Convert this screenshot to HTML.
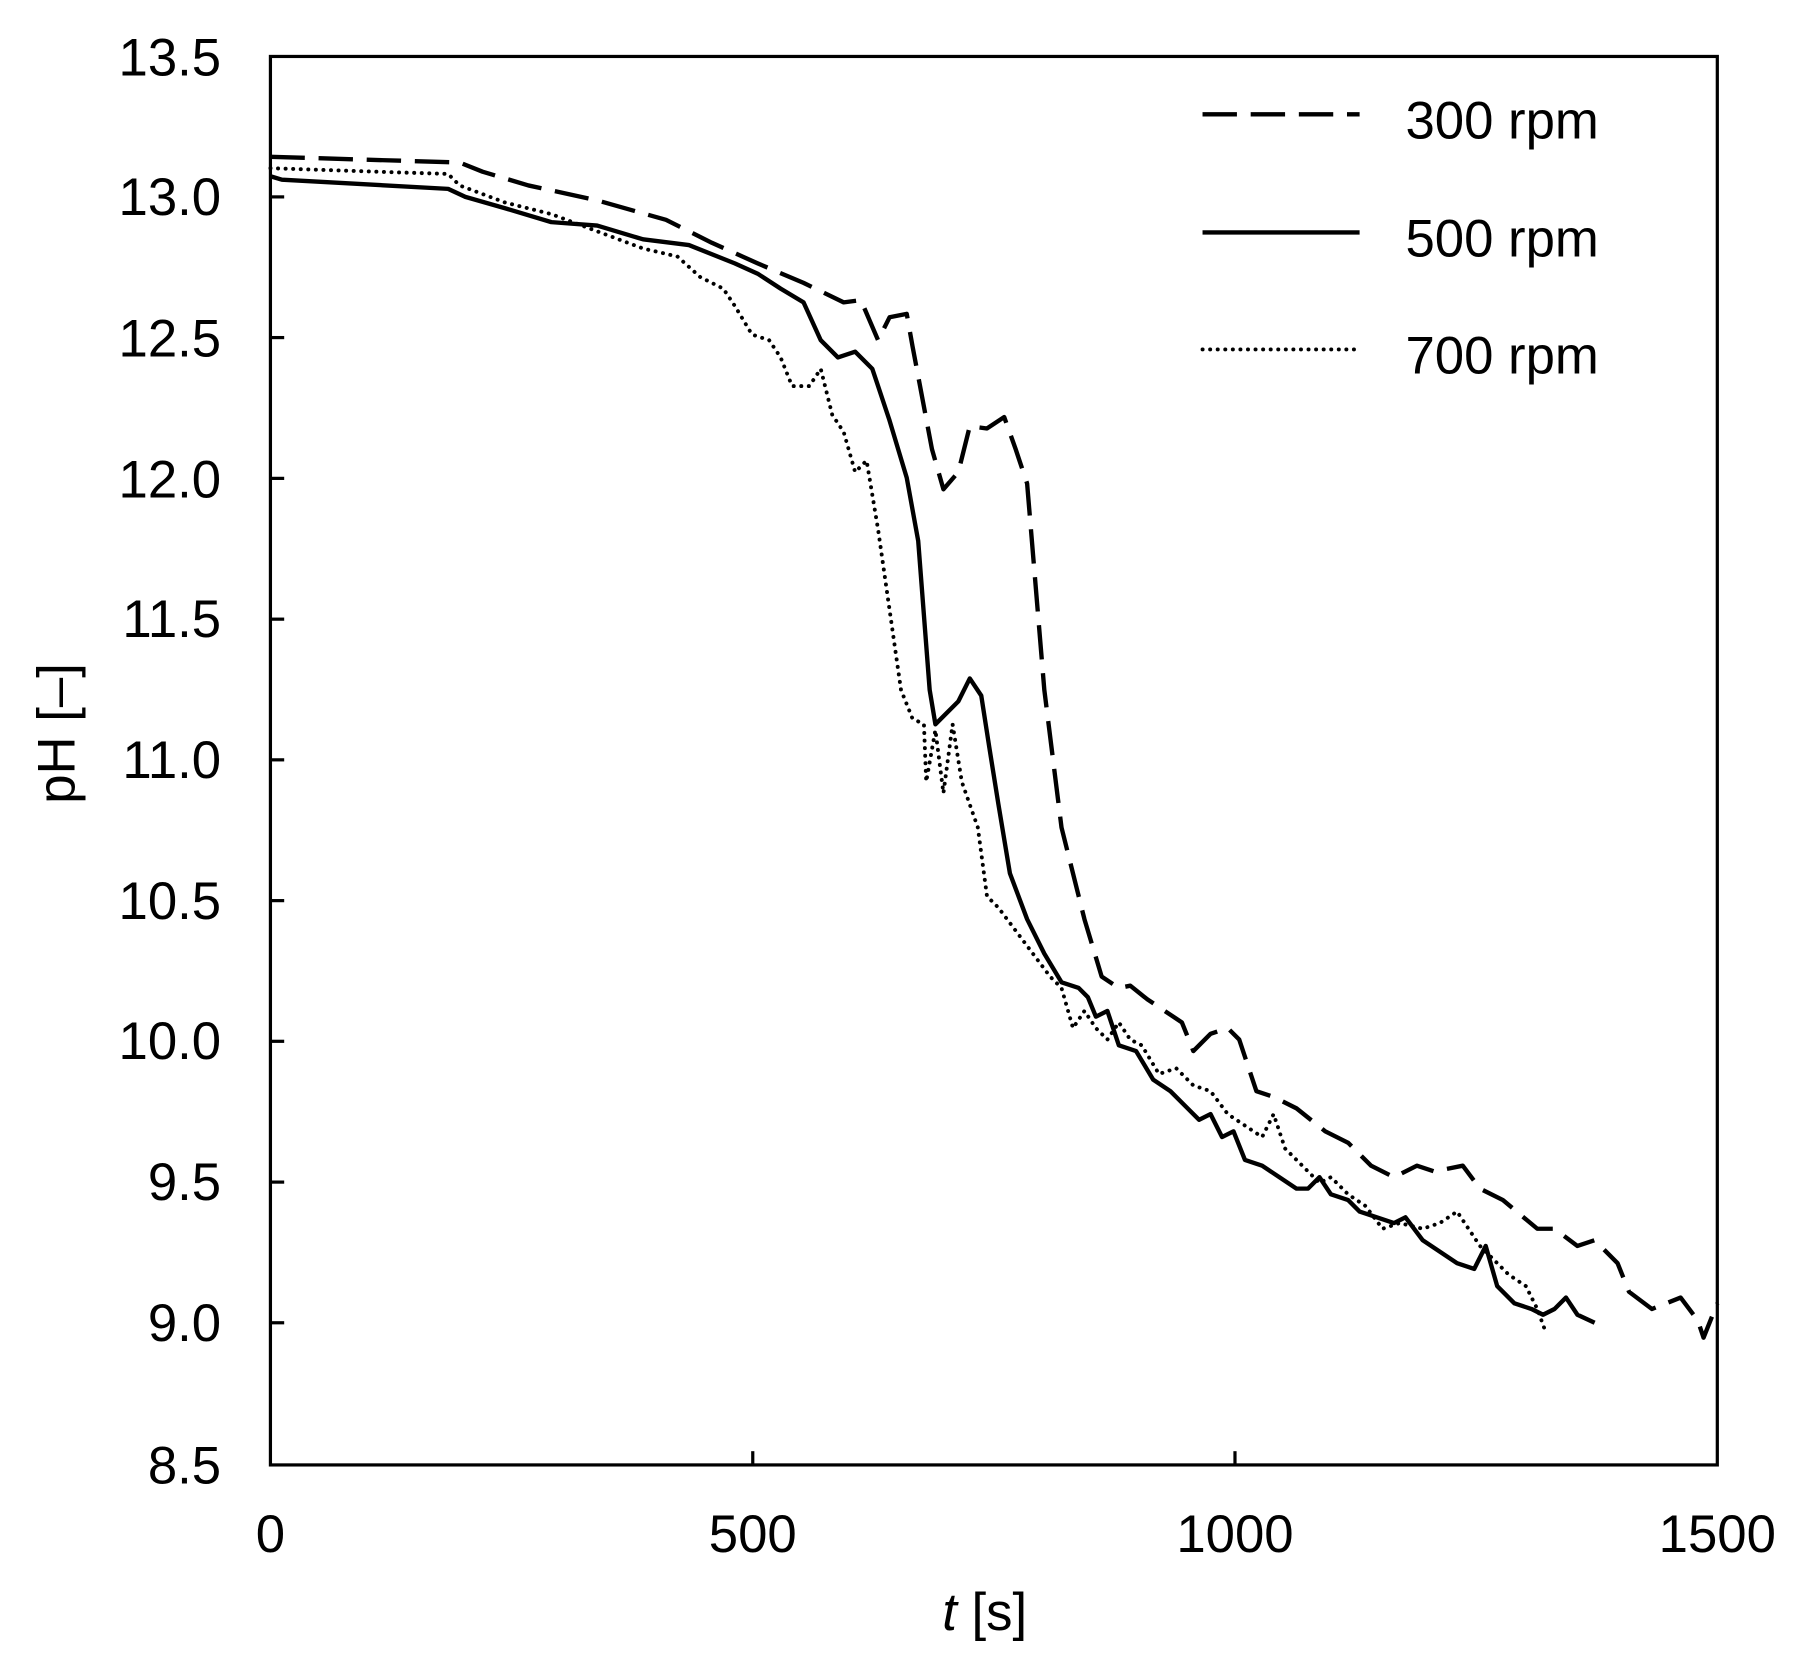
<!DOCTYPE html>
<html><head><style>html,body{margin:0;padding:0;background:#fff}svg{display:block}</style></head>
<body>
<svg width="1797" height="1668" viewBox="0 0 1797 1668" xmlns="http://www.w3.org/2000/svg">
<g transform="translate(1,2) scale(1.1465)" font-family="Liberation Sans, Arial, sans-serif" fill="#000">
<rect x="235" y="47.5" width="1262" height="1228.5" fill="none" stroke="#000" stroke-width="2.8"/>
<g stroke="#000" stroke-width="2.8">
<line x1="235" y1="170" x2="247" y2="170"/><line x1="235" y1="292.7" x2="247" y2="292.7"/>
<line x1="235" y1="415.5" x2="247" y2="415.5"/><line x1="235" y1="538.3" x2="247" y2="538.3"/>
<line x1="235" y1="661" x2="247" y2="661"/><line x1="235" y1="783.8" x2="247" y2="783.8"/>
<line x1="235" y1="906.5" x2="247" y2="906.5"/><line x1="235" y1="1029.3" x2="247" y2="1029.3"/>
<line x1="235" y1="1152" x2="247" y2="1152"/>
<line x1="655.7" y1="1276" x2="655.7" y2="1264"/><line x1="1076.3" y1="1276" x2="1076.3" y2="1264"/>
</g>
<g font-size="46" text-anchor="end">
<text x="192" y="64">13.5</text><text x="192" y="186">13.0</text><text x="192" y="309">12.5</text>
<text x="192" y="432">12.0</text><text x="192" y="554">11.5</text><text x="192" y="677">11.0</text>
<text x="192" y="800">10.5</text><text x="192" y="922">10.0</text><text x="192" y="1045">9.5</text>
<text x="192" y="1168">9.0</text><text x="192" y="1292">8.5</text>
</g>
<g font-size="46" text-anchor="middle">
<text x="235" y="1352">0</text><text x="655.7" y="1352">500</text>
<text x="1076.3" y="1352">1000</text><text x="1497" y="1352">1500</text>
<text x="858" y="1420"><tspan font-style="italic">t</tspan> [s]</text>
<text transform="translate(64,638) rotate(-90)">pH [–]</text>
</g>
<g font-size="46">
<text x="1225" y="119">300 rpm</text><text x="1225" y="222">500 rpm</text><text x="1225" y="324">700 rpm</text>
</g>
<g fill="none" stroke="#000" stroke-width="3.8" stroke-linejoin="round">
<line x1="1048" y1="98" x2="1185" y2="98" stroke-dasharray="30 12"/>
<line x1="1048" y1="201" x2="1185" y2="201"/>
<line x1="1048" y1="303" x2="1185" y2="303" stroke-width="3.4" stroke-dasharray="0.1 6.5" stroke-linecap="round"/>
<polyline stroke-dasharray="30 12" points="235,135 400,140 420,148 460,160 520,173 580,190 620,210 660,228 700,245 735,262 750,260 765,295 775,275 790,272 795,300 812,390 822,425 835,410 845,370 860,372 875,362 885,390 895,420 910,600 925,720 945,800 960,850 975,860 985,858 1000,870 1015,880 1030,890 1040,915 1055,900 1070,895 1080,905 1095,950 1110,955 1130,965 1155,985 1175,995 1195,1015 1215,1025 1235,1015 1250,1020 1275,1015 1290,1035 1310,1045 1340,1070 1355,1070 1375,1085 1390,1080 1410,1100 1420,1125 1440,1140 1465,1130 1480,1150 1485,1165 1497,1135"/>
<polyline points="235,152 245,155 390,163 405,170 440,180 480,192 520,195 560,207 600,212 640,228 660,237 680,250 700,262 715,295 730,310 745,305 760,320 775,365 790,415 800,470 810,600 815,630 820,625 835,610 845,590 855,605 862,650 870,700 880,760 895,800 910,830 925,855 940,860 948,868 955,885 965,880 975,910 990,915 1005,940 1020,950 1035,965 1045,975 1055,970 1065,990 1075,985 1085,1010 1100,1015 1115,1025 1130,1035 1140,1035 1150,1025 1160,1040 1175,1045 1185,1055 1200,1060 1215,1065 1225,1060 1240,1080 1255,1090 1270,1100 1285,1105 1295,1085 1305,1120 1320,1135 1335,1140 1345,1145 1355,1140 1365,1130 1375,1145 1390,1152"/>
<polyline stroke-width="3.4" stroke-dasharray="0.1 6.5" stroke-linecap="round" points="235,145 390,150 400,160 440,175 480,185 520,200 560,215 590,222 610,240 630,250 640,265 655,290 670,295 680,310 690,335 705,335 715,320 725,360 735,375 745,410 755,400 765,460 775,530 785,600 795,625 805,630 807,680 815,635 822,690 830,630 838,680 845,700 852,720 860,780 870,790 885,810 900,830 915,850 925,860 935,895 945,880 955,895 965,905 975,890 985,905 995,910 1010,935 1025,930 1040,945 1055,950 1070,970 1085,980 1100,990 1110,970 1120,1000 1135,1015 1150,1030 1160,1025 1175,1040 1190,1050 1205,1070 1220,1065 1240,1070 1255,1065 1270,1055 1280,1070 1290,1085 1300,1095 1315,1110 1330,1120 1340,1140 1348,1162"/>
</g>
</g>
</svg>
</body></html>
